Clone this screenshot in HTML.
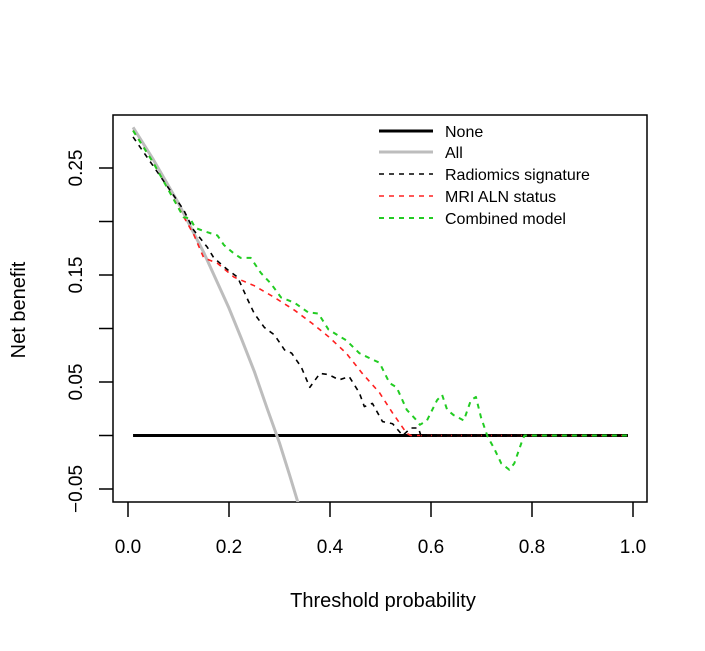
<!DOCTYPE html>
<html><head><meta charset="utf-8"><style>
body{margin:0;background:#fff;}
svg text{font-family:"Liberation Sans",sans-serif;fill:#000;}
</style></head><body>
<svg id="chart" width="705" height="646" xmlns="http://www.w3.org/2000/svg"></svg>
<script>
const xTicks=[0,0.2,0.4,0.6,0.8,1.0];
const xTickLabels=["0.0","0.2","0.4","0.6","0.8","1.0"];
const yTicks=[-0.05,0,0.05,0.10,0.15,0.20,0.25];
const yTickLabels=["\u22120.05","","0.05","","0.15","","0.25"];
const noneT=[0.01,0.99];
const noneNB=[0,0];
const allT=[0.01,0.05,0.1,0.15,0.2,0.225,0.25,0.275,0.3,0.32,0.34];
const allNB=[0.288,0.258,0.217,0.171,0.119,0.090,0.060,0.026,-0.007,-0.037,-0.068];
const radT=[0.01,0.11,0.13,0.157,0.17,0.197,0.217,0.237,0.25,0.27,0.29,0.31,0.324,0.343,0.36,0.38,0.397,0.418,0.438,0.458,0.468,0.484,0.504,0.524,0.544,0.56,0.575,0.58,0.99];
const radNB=[0.279,0.211,0.192,0.176,0.166,0.155,0.148,0.127,0.114,0.101,0.094,0.08,0.077,0.064,0.045,0.058,0.057,0.052,0.055,0.04,0.027,0.03,0.013,0.011,0,0.007,0.007,0,0];
const mriT=[0.01,0.05,0.1,0.13,0.15,0.177,0.21,0.25,0.29,0.33,0.364,0.398,0.432,0.464,0.498,0.524,0.552,0.56,0.99];
const mriNB=[0.285,0.255,0.213,0.188,0.166,0.161,0.148,0.14,0.129,0.117,0.105,0.092,0.077,0.058,0.04,0.021,0.002,0,0];
const comT=[0.01,0.05,0.11,0.123,0.133,0.157,0.177,0.19,0.21,0.223,0.243,0.263,0.283,0.303,0.33,0.357,0.377,0.397,0.432,0.458,0.484,0.498,0.518,0.532,0.552,0.568,0.578,0.592,0.612,0.622,0.632,0.645,0.665,0.679,0.689,0.699,0.712,0.725,0.739,0.755,0.765,0.779,0.785,0.99];
const comNB=[0.285,0.255,0.204,0.203,0.194,0.19,0.187,0.178,0.17,0.166,0.166,0.152,0.142,0.129,0.124,0.115,0.114,0.099,0.089,0.077,0.071,0.068,0.049,0.045,0.024,0.016,0.01,0.014,0.033,0.038,0.024,0.019,0.014,0.033,0.036,0.017,-0.001,-0.012,-0.026,-0.032,-0.026,-0.007,0,0];

const svg=document.getElementById('chart');
const NS='http://www.w3.org/2000/svg';
const X=t=>128+t*505;
const Y=v=>435.5-v*1070;
function mk(tag,attrs,parent){const e=document.createElementNS(NS,tag);for(const k in attrs)e.setAttribute(k,attrs[k]);(parent||svg).appendChild(e);return e;}

const defs=mk('defs',{});
const cp=mk('clipPath',{id:'pc'},defs);
mk('rect',{x:113,y:115,width:534,height:387},cp);

const box=mk('rect',{x:113,y:115,width:534,height:387,fill:'none',stroke:'#000','stroke-width':1.5});



xTicks.forEach((t,i)=>{
  const l=mk('line',{x1:X(t),x2:X(t),y1:502,y2:517,stroke:'#000','stroke-width':1.5});
  
  
  const tx=mk('text',{x:X(t),y:553,'text-anchor':'middle','font-size':19});
  tx.textContent=xTickLabels[i];
  
  
});
yTicks.forEach((v,i)=>{
  const l=mk('line',{x1:99,x2:113,y1:Y(v),y2:Y(v),stroke:'#000','stroke-width':1.5});
  
  
  if(yTickLabels[i]){
    const tx=mk('text',{x:0,y:0,'text-anchor':'middle','font-size':19,transform:`translate(82,${Y(v)}) rotate(-90)`});
    tx.textContent=yTickLabels[i];
    
    
  }
});
const xt=mk('text',{x:383,y:607,'text-anchor':'middle','font-size':20});
xt.textContent='Threshold probability';


const yt=mk('text',{x:0,y:0,'text-anchor':'middle','font-size':20,transform:'translate(25,310) rotate(-90)'});
yt.textContent='Net benefit';



const g=mk('g',{'clip-path':'url(#pc)'});
function series(ts,vs,style,name){
  const p=mk('polyline',Object.assign({points:ts.map((t,i)=>X(t)+','+Y(vs[i])).join(' '),fill:'none','stroke-linejoin':'round'},style),g);
  
  
}
series(noneT,noneNB,{stroke:'#000','stroke-width':3},'none-line');
series(allT,allNB,{stroke:'#bdbdbd','stroke-width':3},'all-line');
series(mriT,mriNB,{stroke:'#ff2020','stroke-width':1.6,'stroke-dasharray':'5 5'},'mri-aln-status-line');
series(radT,radNB,{stroke:'#000','stroke-width':1.6,'stroke-dasharray':'5 5'},'radiomics-signature-line');
series(comT,comNB,{stroke:'#22cc22','stroke-width':2,'stroke-dasharray':'5 5'},'combined-model-line');

const legend=[['None',{stroke:'#000','stroke-width':3}],['All',{stroke:'#bdbdbd','stroke-width':3}],['Radiomics signature',{stroke:'#000','stroke-width':1.6,'stroke-dasharray':'5 5'}],['MRI ALN status',{stroke:'#ff2020','stroke-width':1.6,'stroke-dasharray':'5 5'}],['Combined model',{stroke:'#22cc22','stroke-width':2,'stroke-dasharray':'5 5'}]];
const ly=[131,152,174,196,218];
legend.forEach((e,i)=>{
  const lg=mk('g',{});
  
  
  mk('line',Object.assign({x1:379,x2:433,y1:ly[i],y2:ly[i]},e[1]),lg);
  const t=mk('text',{x:445,y:ly[i]+6,'font-size':16},lg);
  t.textContent=e[0];
});
</script>
</body></html>
